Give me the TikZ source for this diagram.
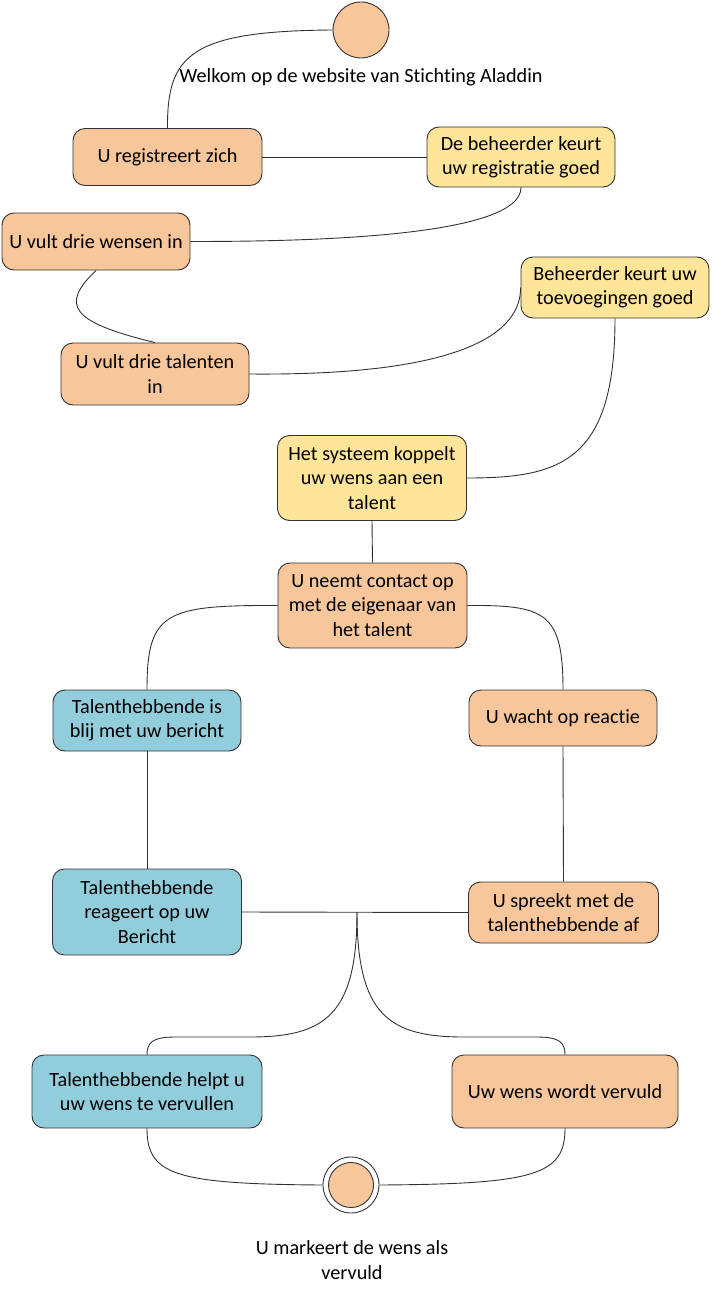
\documentclass[tikz,border=0pt]{standalone}
\usepackage{fontspec}
\setmainfont{Carlito}[Ligatures=NoCommon]
\definecolor{peachc}{RGB}{248,198,155}
\definecolor{yellowc}{RGB}{255,229,153}
\definecolor{bluec}{RGB}{146,205,220}
\definecolor{edgec}{RGB}{50,50,50}
\begin{document}
\begin{tikzpicture}[x=1pt,y=-1pt,
  txt/.style={font=\fontsize{20.2}{24.4}\selectfont, text=black, align=center},
  box/.style={txt, draw=edgec, line width=0.9pt, rounded corners=12pt, inner sep=0pt},
  peach/.style={box, fill=peachc},
  yel/.style={box, fill=yellowc},
  blu/.style={box, fill=bluec},
  link/.style={draw=edgec, line width=0.9pt}
]
\useasboundingbox (0,0) rectangle (713,1295);

% start and end states
\node[circle, draw=edgec, line width=0.9pt, fill=peachc, minimum size=56pt, inner sep=0pt] (start) at (361,30) {};
\node[txt] (welkom) at (361,77) {Welkom op de website van Stichting Aladdin};
\node[circle, draw=edgec, line width=0.9pt, minimum size=56pt, inner sep=0pt] (endo) at (351,1185) {};
\node[circle, draw=edgec, line width=0.9pt, fill=peachc, minimum size=45pt, inner sep=0pt] (endi) at (351,1185) {};
\node[txt] (endtxt) at (352,1260) {U markeert de wens als\\vervuld};

% activities
\node[peach, minimum width=189pt, minimum height=57pt] (reg) at (167.5,157) {U registreert zich};
\node[yel, minimum width=188pt, minimum height=60pt] (keur1) at (521,157) {De beheerder keurt\\uw registratie goed};
\node[peach, minimum width=188pt, minimum height=57pt] (wens) at (96,241.5) {U vult drie wensen in};
\node[peach, minimum width=188pt, minimum height=62pt] (talent) at (155,374) {U vult drie talenten\\in};
\node[yel, minimum width=188pt, minimum height=61pt] (keur2) at (615,287.5) {Beheerder keurt uw\\toevoegingen goed};
\node[yel, minimum width=189pt, minimum height=85pt] (koppel) at (372,478) {Het systeem koppelt\\uw wens aan een\\talent};
\node[peach, minimum width=189pt, minimum height=85pt] (contact) at (372.5,605.5) {U neemt contact op\\met de eigenaar van\\het talent};
\node[blu, minimum width=188pt, minimum height=61pt] (blij) at (147,720.5) {Talenthebbende is\\blij met uw bericht};
\node[peach, minimum width=188pt, minimum height=56pt] (wacht) at (563,718) {U wacht op reactie};
\node[blu, minimum width=189pt, minimum height=86pt] (reageert) at (147,912) {Talenthebbende\\reageert op uw\\Bericht};
\node[peach, minimum width=190pt, minimum height=61pt] (spreekt) at (563.5,912.5) {U spreekt met de\\talenthebbende af};
\node[blu, minimum width=230pt, minimum height=73pt] (helpt) at (147,1091.5) {Talenthebbende helpt u\\uw wens te vervullen};
\node[peach, minimum width=226pt, minimum height=73pt] (vervuld) at (565,1091.5) {Uw wens wordt vervuld};

\coordinate (join) at (357,912);

% connectors
\draw[link] (start.west) .. controls (190,31) and (167,55) .. (reg.north);
\draw[link] (reg.east) -- (keur1.west);
\draw[link] (keur1.south) .. controls (521,238) and (300,241.5) .. (wens.east);
\draw[link] (wens.south) .. controls (60,305) and (70,322) .. (talent.north);
\draw[link] (talent.east) .. controls (470,376) and (521,330) .. (keur2.west);
\draw[link] (keur2.south) .. controls (615,462) and (560,478) .. (koppel.east);
\draw[link] (koppel.south) -- (contact.north);
\draw[link] (contact.west) .. controls (165,605) and (147,612) .. (blij.north);
\draw[link] (contact.east) .. controls (545,605) and (563,612) .. (wacht.north);
\draw[link] (blij.south) -- (reageert.north);
\draw[link] (wacht.south) -- (spreekt.north);
\draw[link] (reageert.east) -- (spreekt.west);
\draw[link] (join) .. controls (357,1015) and (325,1037) .. (250,1037) -- (175,1037)
  .. controls (152,1037) and (147,1043) .. (helpt.north);
\draw[link] (join) .. controls (357,1015) and (389,1037) .. (464,1037) -- (537,1037)
  .. controls (560,1037) and (565,1043) .. (vervuld.north);
\draw[link] (helpt.south) .. controls (147,1175) and (175,1184) .. (endo.west);
\draw[link] (vervuld.south) .. controls (565,1175) and (535,1184) .. (endo.east);
\end{tikzpicture}
\end{document}
